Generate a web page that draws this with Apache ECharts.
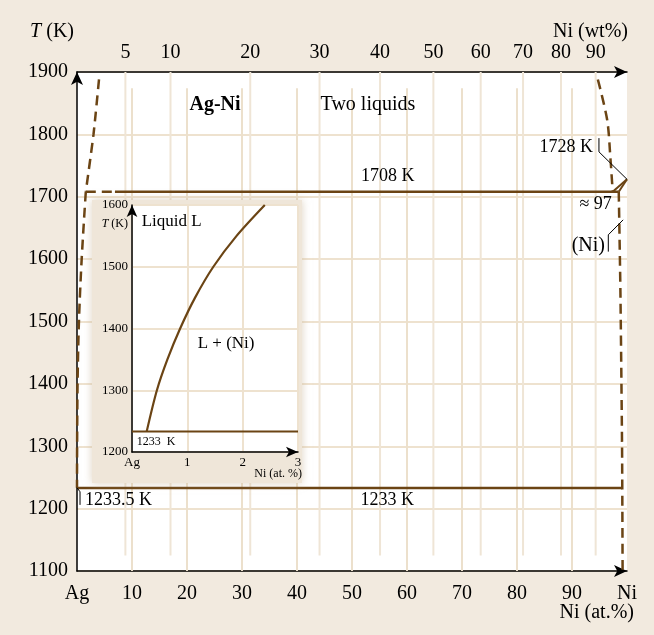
<!DOCTYPE html>
<html><head><meta charset="utf-8">
<script src="https://cdn.jsdelivr.net/npm/echarts@6/dist/echarts.min.js"></script>
<style>html,body{margin:0;padding:0;background:#f2eadf}#c{width:654px;height:635px}</style>
</head><body><div id="c"></div>
<script>
// ---------- data ----------
const atTicks = [0, 10, 20, 30, 40, 50, 60, 70, 80, 90, 100];
const atTickLabels = ['Ag', '10', '20', '30', '40', '50', '60', '70', '80', '90', 'Ni'];
const atGridLines = [10, 20, 30, 40, 50, 60, 70, 80, 90];
const wtTickPos = [8.8, 17.0, 31.5, 44.1, 55.1, 64.8, 73.4, 81.1, 88.0, 94.3];
const wtTickLabels = ['5', '10', '20', '30', '40', '50', '60', '70', '80', '90'];
const tRange = [1100, 1900];
const insetXTicks = [0, 1, 2, 3];
const insetXLabels = ['Ag', '1', '2', '3'];
const insetTRange = [1200, 1600];

const leftGap = [[4.0, 1888], [3.0, 1800], [1.6, 1708]];
const leftLiquidus = [[1.6, 1708], [0.85, 1600], [0.35, 1500], [0.1, 1400], [0.02, 1300], [0, 1233.5]];
const rightGap = [[94.7, 1888], [96.4, 1823], [97.0, 1760], [97.4, 1708]];
const niSolvus = [[98.5, 1708], [98.8, 1550], [99.1, 1300], [99.2, 1100]];
const monotecticDashed = [[1.6, 1708], [6.9, 1708]];
const monotecticSolid = [[6.9, 1708], [98.5, 1708]];
const eutecticLine = [[0, 1233], [99.1, 1233]];
const niLiquidus = [[97.4, 1708], [100, 1728]];
const niSolidus = [[98.5, 1708], [100, 1728]];

const leader1728 = [[94.9, 1794], [94.9, 1772], [100, 1728]];
const leaderNi = [[96.6, 1612], [96.6, 1639], [99.3, 1663]];
const leader12335 = [[0, 1233.5], [0.55, 1227], [0.55, 1206]];

const insetLiquidus = [[0.265, 1233], [0.45, 1300], [0.64, 1350], [0.87, 1400], [1.14, 1450], [1.47, 1500], [1.89, 1550], [2.40, 1600]];
const insetEutectic = [[0, 1233], [3, 1233]];

const mainNotes = [
  ['Ag-Ni', 25.1, 1848],
  ['Two liquids', 52.9, 1848],
  ['1708 K', 56.5, 1733],
  ['1233 K', 56.4, 1214],
  ['1233.5 K', 1.45, 1214],
  ['1728 K', 93.8, 1780],
  ['\u2248 97', 94.3, 1688],
  ['(Ni)', 96.0, 1622]
];
const insetNotes = [
  ['Liquid L', 0.175, 1574],
  ['L + (Ni)', 1.70, 1376],
  ['1233  K', 0.085, 1217]
];

// ---------- styles ----------
const FONT = 'Liberation Serif';
const BROWN = '#6b4414';
const GRID = '#eee2cf';
const DASH = [10, 6];
const noteStyle = {
  'Ag-Ni': {size: 20, bold: true, align: 'center'},
  'Two liquids': {size: 20, align: 'center'},
  '1708 K': {size: 18, align: 'center'},
  '1233 K': {size: 18, align: 'center'},
  '1233.5 K': {size: 18, align: 'left'},
  '1728 K': {size: 18, align: 'right'},
  '\u2248 97': {size: 18, align: 'center'},
  '(Ni)': {size: 20, align: 'right'},
  'Liquid L': {size: 17, align: 'left'},
  'L + (Ni)': {size: 17, align: 'center'},
  '1233  K': {size: 12, align: 'left'}
};

function nearestLabel(v, pos, labels) {
  let bi = 0, bd = Infinity;
  pos.forEach((p, i) => { const d = Math.abs(p - v); if (d < bd) { bd = d; bi = i; } });
  return labels[bi];
}

function vLines(xs, yTop, yBot, color, width, z) {
  return {
    type: 'custom', xAxisIndex: 0, yAxisIndex: 0, z: z, silent: true,
    data: xs.map(x => [x, yTop, yBot]),
    renderItem: (params, api) => {
      const a = api.coord([api.value(0), api.value(1)]);
      const b = api.coord([api.value(0), api.value(2)]);
      return {type: 'line', shape: {x1: a[0], y1: a[1], x2: b[0], y2: b[1]}, style: {stroke: color, lineWidth: width}};
    }
  };
}

function notes(list, xi, yi, zlevel, z) {
  return {
    type: 'custom', xAxisIndex: xi, yAxisIndex: yi, zlevel: zlevel, z: z, silent: true,
    data: list.map((n, i) => [n[1], n[2], i]),
    renderItem: (params, api) => {
      const n = list[api.value(2)];
      const st = noteStyle[n[0]];
      const p = api.coord([api.value(0), api.value(1)]);
      return {type: 'text', x: p[0], y: p[1], style: {
        text: n[0], fontFamily: FONT, fontSize: st.size, fontWeight: st.bold ? 'bold' : 'normal',
        fill: '#000', align: st.align, verticalAlign: 'middle'}};
    }
  };
}

function brownLine(data, dashed, width, extra) {
  return Object.assign({
    type: 'line', xAxisIndex: 0, yAxisIndex: 0, data: data, symbol: 'none', showSymbol: false,
    clip: false, silent: true, z: 3,
    lineStyle: {color: BROWN, width: width || 2.5, type: dashed ? DASH : 'solid'}
  }, extra || {});
}

function leader(data) {
  return {type: 'line', xAxisIndex: 0, yAxisIndex: 0, data: data, symbol: 'none', clip: false, silent: true, z: 4,
    lineStyle: {color: '#000', width: 1}};
}

const axisLineStyle = {show: true, onZero: false, lineStyle: {color: '#000', width: 1.5}, symbol: ['none', 'arrow'], symbolSize: [9, 13]};
const mainLabel = {fontFamily: FONT, fontSize: 20, color: '#000'};

const chart = echarts.init(document.getElementById('c'), null, {renderer: 'canvas'});
chart.setOption({
  animation: false,
  backgroundColor: '#f2eadf',
  grid: [
    {left: 77, right: 27, top: 72, bottom: 64, show: true, backgroundColor: '#fff', borderWidth: 0},
    {left: 132, right: 356, top: 205, bottom: 183, show: true, backgroundColor: '#fff', borderWidth: 0, zlevel: 1, z: 1}
  ],
  xAxis: [
    {gridIndex: 0, type: 'value', min: atTicks[0], max: atTicks[atTicks.length - 1], interval: 10, position: 'bottom',
      axisLine: axisLineStyle, axisTick: {show: false}, splitLine: {show: false},
      axisLabel: Object.assign({margin: 13, showMinLabel: true, showMaxLabel: true,
        formatter: v => nearestLabel(v, atTicks, atTickLabels)}, mainLabel)},
    {gridIndex: 0, type: 'value', min: atTicks[0], max: atTicks[atTicks.length - 1], position: 'top',
      axisLine: axisLineStyle, axisTick: {show: false}, splitLine: {show: false},
      axisLabel: Object.assign({margin: 9, customValues: wtTickPos,
        formatter: v => nearestLabel(v, wtTickPos, wtTickLabels)}, mainLabel)},
    {gridIndex: 1, type: 'value', min: insetXTicks[0], max: insetXTicks[insetXTicks.length - 1], interval: 1,
      zlevel: 1, z: 3,
      axisLine: {show: true, onZero: false, lineStyle: {color: '#000', width: 1.5}, symbol: ['none', 'arrow'], symbolSize: [8, 12]},
      axisTick: {show: false}, splitLine: {show: true, lineStyle: {color: GRID, width: 2}},
      axisLabel: {fontFamily: FONT, fontSize: 13, color: '#000', margin: 4, showMinLabel: true, showMaxLabel: true,
        formatter: v => nearestLabel(v, insetXTicks, insetXLabels)}}
  ],
  yAxis: [
    {gridIndex: 0, type: 'value', min: tRange[0], max: tRange[1], interval: 100,
      axisLine: axisLineStyle, axisTick: {show: false},
      splitLine: {show: true, lineStyle: {color: GRID, width: 2}},
      axisLabel: Object.assign({margin: 9, showMinLabel: true, showMaxLabel: true, formatter: v => String(v)}, mainLabel)},
    {gridIndex: 1, type: 'value', min: insetTRange[0], max: insetTRange[1], interval: 100, zlevel: 1, z: 3,
      axisLine: {show: true, onZero: false, lineStyle: {color: '#000', width: 1.5}, symbol: ['none', 'arrow'], symbolSize: [8, 12]},
      axisTick: {show: false}, splitLine: {show: true, lineStyle: {color: GRID, width: 2}},
      axisLabel: {fontFamily: FONT, fontSize: 13, color: '#000', margin: 4, showMinLabel: true, showMaxLabel: true,
        formatter: v => String(v)}}
  ],
  graphic: [
    {type: 'rect', zlevel: 1, z: 0, silent: true, shape: {x: 92, y: 200, width: 210, height: 283},
      style: {fill: '#efe6d9', shadowBlur: 8, shadowColor: 'rgba(200,180,150,0.6)'}},
    {type: 'text', x: 74, y: 32, silent: true, style: {text: '{i|T} (K)', fontFamily: FONT, fontSize: 20, fill: '#000',
      align: 'right', verticalAlign: 'middle', rich: {i: {fontStyle: 'italic', fontFamily: FONT, fontSize: 20, fill: '#000'}}}},
    {type: 'text', x: 628, y: 32, silent: true, style: {text: 'Ni (wt%)', fontFamily: FONT, fontSize: 20, fill: '#000',
      align: 'right', verticalAlign: 'middle'}},
    {type: 'text', x: 634, y: 613, silent: true, style: {text: 'Ni (at.%)', fontFamily: FONT, fontSize: 20, fill: '#000',
      align: 'right', verticalAlign: 'middle'}},
    {type: 'text', x: 128, y: 224, zlevel: 1, z: 5, silent: true, style: {text: '{i|T} (K)', fontFamily: FONT, fontSize: 12, fill: '#000',
      align: 'right', verticalAlign: 'middle', rich: {i: {fontStyle: 'italic', fontFamily: FONT, fontSize: 12, fill: '#000'}}}},
    {type: 'text', x: 302, y: 474, zlevel: 1, z: 5, silent: true, style: {text: 'Ni (at. %)', fontFamily: FONT, fontSize: 12, fill: '#000',
      align: 'right', verticalAlign: 'middle'}}
  ],
  series: [
    vLines(wtTickPos, 1900, 1125, '#efe5d6', 2, 1),
    vLines(atGridLines, 1874, 1100, '#ece0cc', 2, 1),
    brownLine(leftGap, true, 2.5, {smooth: 0.2}),
    brownLine(leftLiquidus, true, 2.5, {smooth: 0.3}),
    brownLine(rightGap, true, 2.5, {smooth: 0.3}),
    brownLine(niSolvus, true, 2.5, {smooth: 0.2}),
    brownLine(monotecticDashed, true, 2.5),
    brownLine(monotecticSolid, false, 2.5),
    brownLine(eutecticLine, false, 2.5),
    brownLine(niLiquidus, false, 2),
    brownLine(niSolidus, false, 2),
    leader(leader1728),
    leader(leaderNi),
    leader(leader12335),
    notes(mainNotes, 0, 0, 0, 5),
    {type: 'line', xAxisIndex: 2, yAxisIndex: 1, data: insetLiquidus, symbol: 'none', smooth: 0.3, clip: false, silent: true,
      zlevel: 1, z: 4, lineStyle: {color: BROWN, width: 2.2}},
    {type: 'line', xAxisIndex: 2, yAxisIndex: 1, data: insetEutectic, symbol: 'none', clip: false, silent: true,
      zlevel: 1, z: 4, lineStyle: {color: BROWN, width: 2}},
    notes(insetNotes, 2, 1, 1, 5)
  ]
});
</script></body></html>
